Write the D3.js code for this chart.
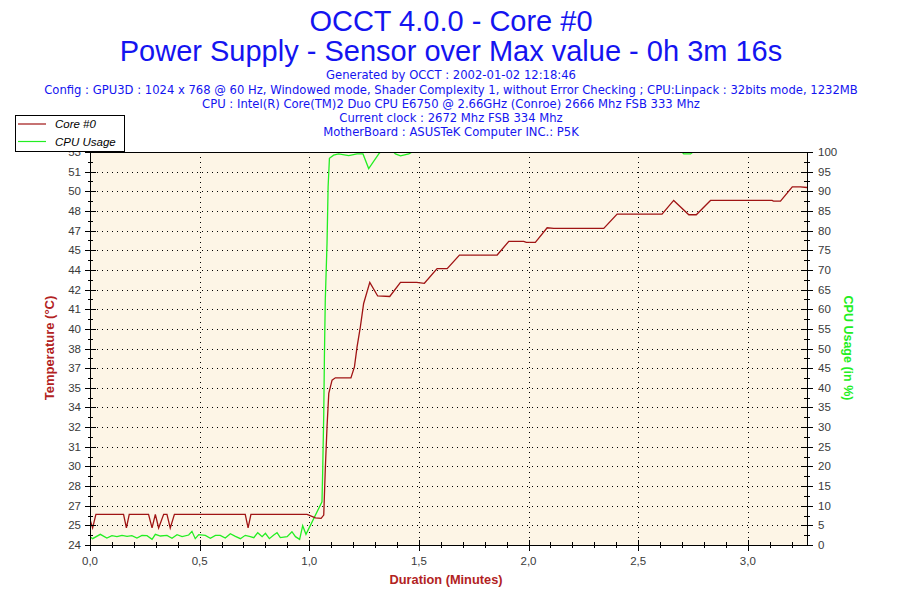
<!DOCTYPE html>
<html>
<head>
<meta charset="utf-8">
<script src="https://cdn.jsdelivr.net/npm/d3@7/dist/d3.min.js"></script>
<style>
  html, body { margin: 0; padding: 0; background: #ffffff; }
  svg { display: block; }
  text { font-family: "Liberation Sans", Arial, sans-serif; }
  text.info { font-family: "DejaVu Sans", Verdana, sans-serif; }
</style>
</head>
<body>
<svg id="chart" width="900" height="600"></svg>
<script>
// ---------- DATA ----------
const titleLines = [
  "OCCT 4.0.0 - Core #0",
  "Power Supply - Sensor over Max value - 0h 3m 16s"
];
const infoLines = [
  "Generated by OCCT : 2002-01-02 12:18:46",
  "Config : GPU3D : 1024 x 768 @ 60 Hz, Windowed mode, Shader Complexity 1, without Error Checking ; CPU:Linpack : 32bits mode, 1232MB",
  "CPU : Intel(R) Core(TM)2 Duo CPU E6750 @ 2.66GHz (Conroe) 2666 Mhz FSB 333 Mhz",
  "Current clock : 2672 Mhz FSB 334 Mhz",
  "MotherBoard : ASUSTeK Computer INC.: P5K"
];
const seriesNames = ["Core #0", "CPU Usage"];

// Temperature axis (left) tick labels, one per CPU tick position
const tempTickLabels = ["24","25","27","28","30","31","32","34","35","37","38",
                        "40","41","42","44","45","47","48","50","51","53"];
const tempDomain = [23.75, 52.55];
// CPU axis (right) ticks
const cpuTicks = [0,5,10,15,20,25,30,35,40,45,50,55,60,65,70,75,80,85,90,95,100];
// Time axis
const timeDomain = [0, 3.27];
const timeTicks = [0, 0.5, 1.0, 1.5, 2.0, 2.5, 3.0];
const timeTickLabels = ["0,0","0,5","1,0","1,5","2,0","2,5","3,0"];

// Core #0 temperature (minutes, °C)
const tempTime = [0, 0.012, 0.027, 0.153, 0.166, 0.179, 0.267, 0.283, 0.298, 0.313,
  0.336, 0.351, 0.366, 0.385, 0.708, 0.721, 0.734, 0.990, 1.028, 1.054, 1.066,
  1.073, 1.081, 1.089, 1.104, 1.119, 1.190, 1.206, 1.218, 1.233, 1.248, 1.276,
  1.312, 1.367, 1.416, 1.490, 1.525, 1.583, 1.629, 1.685, 1.857, 1.910, 1.978,
  1.990, 2.031, 2.085, 2.115, 2.343, 2.404, 2.609, 2.662, 2.731, 2.765, 2.830,
  3.111, 3.117, 3.149, 3.203, 3.240, 3.270];
const tempValue = [25.6, 25.0, 26.0, 26.0, 25.0, 26.0, 26.0, 25.0, 26.0, 25.0,
  26.0, 26.0, 25.0, 26.0, 26.0, 25.0, 26.0, 26.0, 25.74, 25.7, 25.94,
  29.24, 32.41, 34.86, 35.83, 36.0, 36.0, 36.8, 38.27, 39.74, 41.45, 43.0,
  42.0, 41.96, 43.0, 43.0, 42.93, 44.0, 44.0, 45.0, 45.0, 46.0, 46.0,
  45.92, 45.92, 47.0, 46.95, 46.95, 48.0, 48.0, 49.0, 47.95, 47.95, 49.0,
  49.0, 48.95, 48.95, 50.0, 50.0, 49.95];

// CPU usage (minutes, %)
const cpuTime = [0, 0.012, 0.047, 0.077, 0.100, 0.123, 0.146, 0.169, 0.191, 0.214,
  0.237, 0.260, 0.283, 0.298, 0.321, 0.351, 0.374, 0.397, 0.420, 0.450, 0.465,
  0.480, 0.496, 0.526, 0.549, 0.572, 0.594, 0.617, 0.640, 0.663, 0.686, 0.708,
  0.731, 0.747, 0.765, 0.785, 0.800, 0.818, 0.838, 0.853, 0.868, 0.899, 0.921,
  0.937, 0.956, 0.970, 0.985, 1.058, 1.061, 1.066, 1.069, 1.073, 1.081, 1.086,
  1.092, 1.111, 1.134, 1.180, 1.218, 1.245, 1.271, 1.317, 1.324, 1.385, 1.393,
  1.416, 1.454, 1.470, 2.700, 2.708, 2.739, 2.750, 3.270];
const cpuValue = [2.12, 1.61, 2.71, 1.78, 2.37, 2.12, 2.46, 2.20, 2.37, 1.78,
  2.46, 2.37, 1.44, 2.71, 2.29, 2.46, 1.70, 2.63, 2.12, 2.54, 3.48,
  1.61, 2.63, 2.46, 1.70, 2.46, 2.46, 1.78, 2.88, 2.20, 1.61, 2.46,
  2.12, 1.87, 3.14, 2.12, 2.97, 1.61, 2.54, 3.14, 1.87, 2.12, 3.39,
  2.12, 1.44, 4.92, 2.71, 11.0, 18.2, 33.1, 47.5, 62.3, 76.8, 91.2,
  98.4, 99.2, 99.5, 99.1, 99.5, 99.5, 95.8, 99.5, 100, 100, 99.5,
  99.0, 99.5, 100, 100, 99.5, 99.5, 100, 100];

// ---------- DRAW ----------
const svg = d3.select("#chart");
const plot = { left: 90, right: 807, top: 152, bottom: 545 };

const x = d3.scaleLinear().domain(timeDomain).range([plot.left, plot.right]);
const yCpu = d3.scaleLinear().domain([0, 100]).range([plot.bottom, plot.top]);
const yTemp = d3.scaleLinear().domain(tempDomain).range([plot.bottom, plot.top]);

const blue = "#1414f0";
const redTitle = "#b22222";
const redLine = "#a01414";
const green = "#22ee22";
const labelGray = "#3a3a3a";

// titles
svg.append("text").attr("x", 451).attr("y", 31).attr("text-anchor", "middle")
  .attr("font-size", 29).attr("fill", blue).text(titleLines[0]);
svg.append("text").attr("x", 451).attr("y", 61).attr("text-anchor", "middle")
  .attr("font-size", 29).attr("fill", blue).text(titleLines[1]);
const infoY = [79, 94, 108, 122, 136];
infoLines.forEach((t, i) => {
  svg.append("text").attr("class", "info").attr("x", 451).attr("y", infoY[i])
    .attr("text-anchor", "middle")
    .attr("font-size", 11.6).attr("fill", blue).text(t);
});

// plot background
svg.append("rect").attr("x", plot.left).attr("y", plot.top)
  .attr("width", plot.right - plot.left).attr("height", plot.bottom - plot.top)
  .attr("fill", "#fdf5e6");

// grid
const grid = svg.append("g").attr("stroke", "#000").attr("stroke-width", 1)
  .attr("stroke-dasharray", "1,4").attr("shape-rendering", "crispEdges");
cpuTicks.slice(1, -1).forEach(v => {
  grid.append("line").attr("x1", plot.left + 2).attr("x2", plot.right)
    .attr("y1", Math.round(yCpu(v)) + 0.5).attr("y2", Math.round(yCpu(v)) + 0.5);
});
timeTicks.slice(1).forEach(v => {
  grid.append("line").attr("y1", plot.top).attr("y2", plot.bottom)
    .attr("x1", Math.round(x(v)) + 0.5).attr("x2", Math.round(x(v)) + 0.5);
});

// lines
svg.append("clipPath").attr("id", "clip").append("rect")
  .attr("x", plot.left).attr("y", plot.top)
  .attr("width", plot.right - plot.left).attr("height", plot.bottom - plot.top);

const tempData = tempTime.map((t, i) => [t, tempValue[i]]);
const cpuData = cpuTime.map((t, i) => [t, cpuValue[i]]);

svg.append("path").datum(cpuData).attr("clip-path", "url(#clip)")
  .attr("fill", "none").attr("stroke", green).attr("stroke-width", 1.3)
  .attr("d", d3.line().x(d => x(d[0])).y(d => yCpu(d[1])));
svg.append("path").datum(tempData).attr("clip-path", "url(#clip)")
  .attr("fill", "none").attr("stroke", redLine).attr("stroke-width", 1.3)
  .attr("d", d3.line().x(d => x(d[0])).y(d => yTemp(d[1])));

// axes frame
const axisG = svg.append("g").attr("stroke", "#000").attr("stroke-width", 1)
  .attr("shape-rendering", "crispEdges");
axisG.append("line").attr("x1", plot.left).attr("x2", plot.right + 1)
  .attr("y1", plot.top + 0.5).attr("y2", plot.top + 0.5);
axisG.append("line").attr("x1", plot.left).attr("x2", plot.right + 1)
  .attr("y1", plot.bottom + 0.5).attr("y2", plot.bottom + 0.5);
axisG.append("line").attr("x1", plot.left + 0.5).attr("x2", plot.left + 0.5)
  .attr("y1", plot.top).attr("y2", plot.bottom + 1);
axisG.append("line").attr("x1", plot.right + 0.5).attr("x2", plot.right + 0.5)
  .attr("y1", plot.top).attr("y2", plot.bottom + 1);

// vertical ticks (major + minor) on left and right axes
cpuTicks.forEach((v, i) => {
  const yy = Math.round(yCpu(v)) + 0.5;
  axisG.append("line").attr("x1", plot.left - 5).attr("x2", plot.left + 6).attr("y1", yy).attr("y2", yy);
  axisG.append("line").attr("x1", plot.right - 6).attr("x2", plot.right + 6).attr("y1", yy).attr("y2", yy);
  if (i < cpuTicks.length - 1) {
    const ym = Math.round(yCpu(v + 2.5)) + 0.5;
    axisG.append("line").attr("x1", plot.left - 2).attr("x2", plot.left + 3).attr("y1", ym).attr("y2", ym);
    axisG.append("line").attr("x1", plot.right - 3).attr("x2", plot.right + 3).attr("y1", ym).attr("y2", ym);
  }
});
// horizontal axis ticks (minor every 0.1, major every 0.5)
const minorTimes = d3.range(0, 33).map(k => k / 10);
minorTimes.forEach(v => {
  const xx = Math.round(x(v)) + 0.5;
  const major = Math.abs(v * 2 - Math.round(v * 2)) < 1e-6;
  axisG.append("line").attr("x1", xx).attr("x2", xx)
    .attr("y1", plot.bottom - (major ? 5 : 3)).attr("y2", plot.bottom + (major ? 6 : 3));
});

// tick labels
const tickFont = 11.5;
tempTickLabels.forEach((lab, i) => {
  svg.append("text").attr("x", 81).attr("y", yCpu(cpuTicks[i]) + 4)
    .attr("text-anchor", "end").attr("font-size", tickFont).attr("fill", labelGray).text(lab);
});
cpuTicks.forEach(v => {
  svg.append("text").attr("x", 818).attr("y", yCpu(v) + 4)
    .attr("text-anchor", "start").attr("font-size", tickFont).attr("fill", labelGray).text(v);
});
timeTicks.forEach((v, i) => {
  svg.append("text").attr("x", x(v)).attr("y", 565)
    .attr("text-anchor", "middle").attr("font-size", tickFont).attr("fill", labelGray).text(timeTickLabels[i]);
});

// axis titles
svg.append("text").attr("transform", "translate(54,348) rotate(-90)")
  .attr("text-anchor", "middle").attr("font-size", 13).attr("font-weight", "bold")
  .attr("fill", redTitle).text("Temperature (°C)");
svg.append("text").attr("transform", "translate(844,348) rotate(90)")
  .attr("text-anchor", "middle").attr("font-size", 12.5).attr("font-weight", "bold")
  .attr("fill", green).text("CPU Usage (in %)");
svg.append("text").attr("x", 446).attr("y", 584).attr("text-anchor", "middle")
  .attr("font-size", 12.8).attr("font-weight", "bold").attr("fill", redTitle)
  .text("Duration (Minutes)");

// legend
const lg = svg.append("g");
lg.append("rect").attr("x", 15.5).attr("y", 115.5).attr("width", 109).attr("height", 36)
  .attr("fill", "#fff").attr("stroke", "#000").attr("stroke-width", 1)
  .attr("shape-rendering", "crispEdges");
const legendColors = [redLine, green];
seriesNames.forEach((n, i) => {
  const yy = 124 + i * 17.5;
  lg.append("line").attr("x1", 18).attr("x2", 46).attr("y1", yy).attr("y2", yy)
    .attr("stroke", legendColors[i]).attr("stroke-width", 1.2);
  lg.append("text").attr("x", 55).attr("y", yy + 4).attr("font-size", 11.5)
    .attr("font-style", "italic").attr("fill", "#000").text(n);
});
</script>
</body>
</html>
